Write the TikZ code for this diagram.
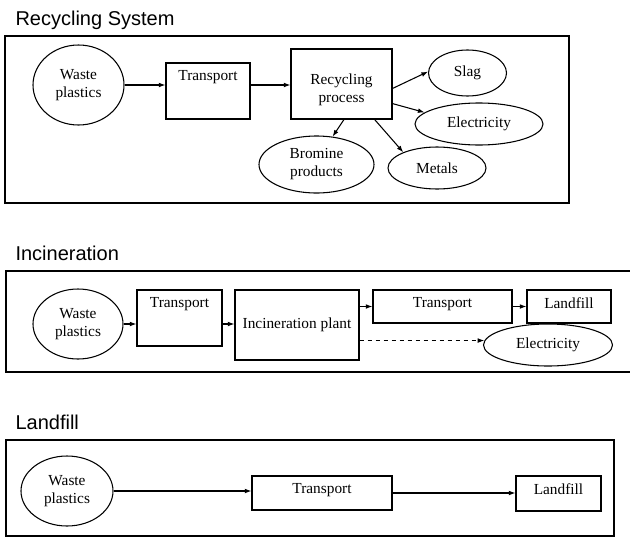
\documentclass[tikz,border=0pt]{standalone}
\usepackage{fontspec}
\setmainfont{Liberation Serif}
\newfontfamily\headfont{Liberation Sans}
\usetikzlibrary{shapes.geometric,arrows.meta}

\begin{document}
\begin{tikzpicture}[x=0.75pt,y=-0.75pt,line width=0.8pt,
  every node/.style={font=\fontsize{11.5}{13.5}\selectfont,align=center},
  heading/.style={font=\headfont\fontsize{15}{18}\selectfont,anchor=base west,inner sep=0pt},
  blob/.style={ellipse,draw,inner sep=0pt},
  stage/.style={rectangle,draw,inner sep=0pt},
  toptext/.style={anchor=north,inner sep=5.5pt},
  flow/.style={-{Latex[length=5pt,width=3.6pt]}}]
  \useasboundingbox (0,0) rectangle (630,539);

  \foreach \ttl/\base in {Recycling System/25,Incineration/260,Landfill/429}
    \node[heading] (head\base) at (15,\base) {\ttl};

  % recycling
  \draw (5,36) rectangle (569,203);
  \node[blob,minimum width=68.25pt,minimum height=60pt] (wasteR) at (78.5,85) {Waste\\plastics};
  \node[stage,minimum width=63pt,minimum height=42pt,label={[toptext]north:Transport}] (transR) at (208,91) {};
  \node[stage,minimum width=75.75pt,minimum height=52.5pt,label={[yshift=-4.5pt]center:{Recycling\\process}}] (procR) at (341.5,84) {};
  \node[blob,minimum width=58.5pt,minimum height=34.5pt] (slagR) at (467.5,73) {Slag};
  \node[blob,minimum width=96pt,minimum height=31.5pt] (elecR) at (479,124) {Electricity};
  \node[blob,minimum width=73.5pt,minimum height=31.5pt] (metalR) at (437,168) {Metals};
  \node[blob,minimum width=86.25pt,minimum height=42.75pt] (bromR) at (316.5,164.5) {Bromine\\products};
  \draw[flow] (wasteR.east) -- (wasteR.east -| transR.west);
  \draw[flow] (wasteR.east -| transR.east) -- (wasteR.east -| procR.west);
  \draw[flow] (procR.-5) -- (slagR.178);
  \draw[flow] (procR.-21) -- (elecR.168);
  \draw[flow] (procR.-86) -- (bromR.60);
  \draw[flow] (procR.-47) -- (metalR.155);

  % incineration
  \draw (634,271) -- (6,271) -- (6,372) -- (634,372);
  \node[blob,minimum width=67.5pt,minimum height=52.5pt] (wasteI) at (78,324) {Waste\\plastics};
  \node[stage,minimum width=63.75pt,minimum height=42pt,label={[toptext]north:Transport}] (transI) at (179.5,318) {};
  \node[stage,minimum width=93pt,minimum height=52.5pt] (plantI) at (297,325) {Incineration plant};
  \node[stage,minimum width=104.25pt,minimum height=24.75pt,label={[toptext]north:Transport}] (transIb) at (442.5,306.5) {};
  \node[stage,minimum width=63pt,minimum height=24.75pt,label={[toptext]north:Landfill}] (landI) at (569,306.5) {};
  \node[blob,minimum width=96.75pt,minimum height=31.5pt] (elecI) at (548,345) {Electricity};
  \draw[flow] (wasteI.east) -- (wasteI.east -| transI.west);
  \draw[flow] (wasteI.east -| transI.east) -- (wasteI.east -| plantI.west);
  \draw[flow] (transIb.west -| plantI.east) -- (transIb.west);
  \draw[flow] (transIb.east) -- (landI.west);
  \draw[flow,dashed] (elecI.176 -| plantI.east) -- (elecI.176);

  % landfill
  \draw (6,440) rectangle (614,536);
  \node[blob,minimum width=69pt,minimum height=52.5pt] (wasteL) at (67,491) {Waste\\plastics};
  \node[stage,minimum width=105pt,minimum height=25.5pt,label={[toptext]north:Transport}] (transL) at (322,493) {};
  \node[stage,minimum width=63.75pt,minimum height=26.25pt,label={[toptext]north:Landfill}] (landL) at (558.5,493.5) {};
  \draw[flow] (wasteL.east) -- (wasteL.east -| transL.west);
  \draw[flow] (transL.east) -- (transL.east -| landL.west);
\end{tikzpicture}
\end{document}
